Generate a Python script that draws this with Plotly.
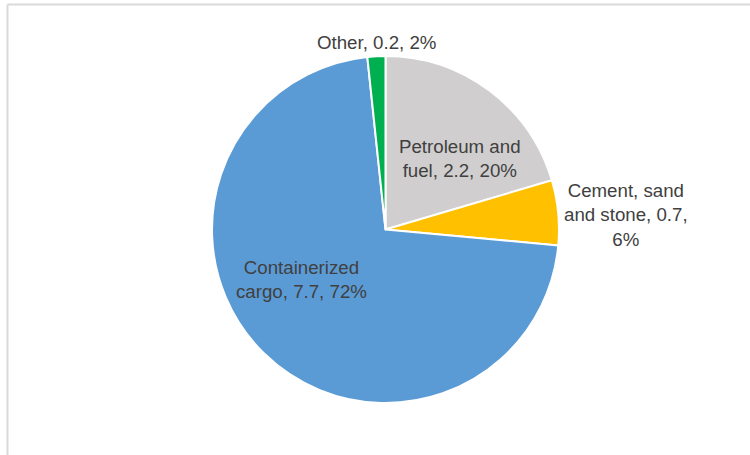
import plotly.graph_objects as go

# Data (clockwise from 12 o'clock)
categories = ["Petroleum and fuel", "Cement, sand and stone", "Containerized cargo", "Other"]
values = [2.2, 0.65, 7.74, 0.18]
value_labels = ["2.2", "0.7", "7.7", "0.2"]
pct_labels = ["20%", "6%", "72%", "2%"]
colors = ["#D0CECE", "#FFC000", "#5B9BD5", "#00B050"]

# label display text (line-broken like the reference)
label_lines = [
    "Petroleum and<br>fuel, {v}, {p}",
    "Cement, sand<br>and stone, {v},<br>{p}",
    "Containerized<br>cargo, {v}, {p}",
    "Other, {v}, {p}",
]
label_pos_px = [(460, 158), (626, 215), (301, 279), (376, 42)]

W, H = 750, 455
cx, cy, r = 385.5, 229.5, 173.5

fig = go.Figure(go.Pie(
    labels=categories,
    values=values,
    sort=False,
    direction="clockwise",
    rotation=0,
    marker=dict(colors=colors, line=dict(color="white", width=2)),
    textinfo="none",
    hoverinfo="label+value+percent",
    showlegend=False,
    domain=dict(x=[(cx - r) / W, (cx + r) / W], y=[(H - cy - r) / H, (H - cy + r) / H]),
))

annotations = []
for tpl, v, p, (px, py) in zip(label_lines, value_labels, pct_labels, label_pos_px):
    annotations.append(dict(
        x=px / W, y=1 - py / H, xref="paper", yref="paper",
        text=tpl.format(v=v, p=p), showarrow=False,
        xanchor="center", yanchor="middle", align="center",
        font=dict(family="Liberation Sans, Arial, sans-serif", size=18.7, color="#404040"),
    ))

shapes = [
    dict(type="line", xref="paper", yref="paper", x0=7.5 / W, x1=1, y0=1 - 4.5 / H, y1=1 - 4.5 / H,
         line=dict(color="#D9D9D9", width=2)),
    dict(type="line", xref="paper", yref="paper", x0=7.5 / W, x1=7.5 / W, y0=0, y1=1 - 4.5 / H,
         line=dict(color="#D9D9D9", width=2)),
]

fig.update_layout(
    width=W, height=H,
    margin=dict(l=0, r=0, t=0, b=0),
    paper_bgcolor="white", plot_bgcolor="white",
    annotations=annotations, shapes=shapes,
)

fig.write_html(
    "out.html",
    config={"displayModeBar": False},
    post_script="document.body.style.margin='0';document.body.style.padding='0';",
)
